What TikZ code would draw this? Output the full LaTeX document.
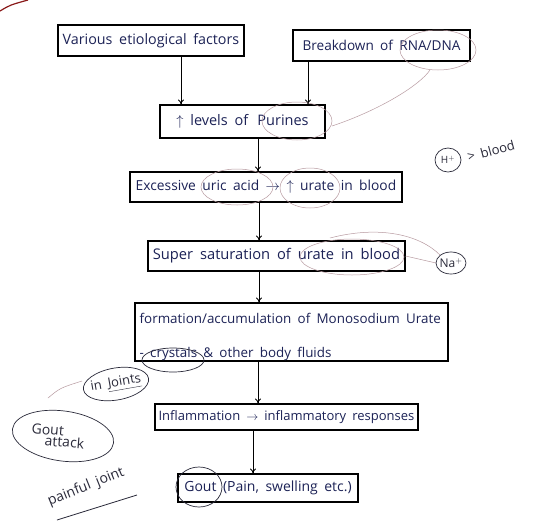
\documentclass[tikz,border=0pt]{standalone}
\usepackage{fontspec}
\setmainfont{Open Sans}[WordSpace=1.8]
\usetikzlibrary{arrows.meta,calc,shapes.geometric}
\definecolor{ink}{HTML}{1C2256}
\definecolor{pen}{HTML}{2A2A3A}
\definecolor{faint}{HTML}{B89AA0}
\definecolor{redink}{HTML}{8A1A1A}
\tikzset{
  box/.style={draw=black, line width=1.1pt, text=ink, inner sep=3pt},
  flow/.style={draw=black, line width=0.9pt, -{To[length=5pt,width=6pt]}},
  ring/.style={draw=faint, line width=0.5pt},
  darkring/.style={draw=pen, line width=0.7pt},
  note/.style={text=pen, font=\fontsize{13}{13}\selectfont, inner sep=1pt}
}
\newcommand{\fs}[1]{\fontsize{#1}{#1}\selectfont}
\begin{document}
\begin{tikzpicture}[x=1pt,y=-1pt]
\useasboundingbox (0,0) rectangle (533,531);
\fill[white] (0,0) rectangle (533,531);
\draw[redink, line width=1.2pt] (0,11) .. controls (10,5) .. (28,0);
% boxes
\node[box, font=\fs{14.3}, minimum width=186pt, minimum height=31pt] (b1) at (151,40.5) {Various etiological factors};
\node[box, font=\fs{13.6}, minimum width=177pt, minimum height=31pt] (b2) at (381.5,45.5) {Breakdown of RNA/DNA};
\node[box, font=\fs{14.5}, minimum width=165pt, minimum height=33pt] (b3) at (242.5,121.5) {$\uparrow$ levels of \,Purines};
\node[box, font=\fs{13.8}, minimum width=272pt, minimum height=30pt] (b4) at (266,187) {Excessive uric acid $\rightarrow$ $\uparrow$ urate in blood};
\node[box, font=\fs{14.7}, minimum width=257pt, minimum height=30pt] (b5) at (276.5,256) {Super saturation of urate in blood};
\node[box, minimum width=313pt, minimum height=58pt] (b6) at (291.5,332) {};
\node[anchor=west, text=ink, align=left, inner sep=0pt, font=\fontsize{13.4}{34}\selectfont] (b6t) at ($(b6.west)+(5,5)$)
  {formation/accumulation of Monosodium Urate\\- crystals \& other body fluids};
\node[box, font=\fs{13}, minimum width=263pt, minimum height=26pt] (b7) at (286.5,417) {Inflammation $\rightarrow$ inflammatory responses};
\node[box, font=\fs{14}, minimum width=180pt, minimum height=28pt] (b8) at (268,488) {Gout (Pain, swelling etc.)};
% arrows
\draw[flow] ([xshift=30pt]b1.south) -- ([xshift=30pt]b1.south |- b3.north);
\draw[flow] ([xshift=-73.5pt]b2.south) -- ([xshift=-73.5pt]b2.south |- b3.north);
\draw[flow] ([xshift=15.5pt]b3.south) -- ([xshift=15.5pt]b3.south |- b4.north);
\draw[flow] ([xshift=-7pt]b4.south) -- ([xshift=-7pt]b4.south |- b5.north);
\draw[flow] ([xshift=-17.5pt]b5.south) -- ([xshift=-17.5pt]b5.south |- b6.north);
\draw[flow] ([xshift=-33.5pt]b6.south) -- ([xshift=-33.5pt]b6.south |- b7.north);
\draw[flow] ([xshift=-33.5pt]b7.south) -- ([xshift=-33.5pt]b7.south |- b8.north);
% rings around words
\draw[ring] (438,50) ellipse [x radius=38pt, y radius=20pt];
\draw[ring] (297,121) ellipse [x radius=35pt, y radius=19pt];
\draw[ring] (237,187) ellipse [x radius=36pt, y radius=18pt];
\draw[ring] (310,188) ellipse [x radius=30pt, y radius=20pt];
\draw[ring] (352,257) ellipse [x radius=52pt, y radius=18pt];
\draw[darkring] (173,360) ellipse [x radius=31pt, y radius=12pt];
\draw[darkring] (199,487) ellipse [x radius=23pt, y radius=20pt];
\draw[ring] (332,126) .. controls (380,110) and (420,85) .. (430,70);
\draw[ring] (330,238) .. controls (380,225) and (420,235) .. (440,255);
\draw[ring] (b5.east) -- (436,263);
% side notes
\node[note] (hp) at (448,160) {\fs{10}H$^{+}$};
\draw[darkring] (hp) ellipse [x radius=13pt, y radius=12pt];
\node[note, rotate=15] (bl) at (491,151) {> blood};
\node[note, font=\fs{12}] (na) at (451,263) {Na$^{+}$};
\draw[darkring] (na) ellipse [x radius=15pt, y radius=11pt];
\node[note, rotate=10] (jt) at (116,384) {in \underline{Joints}};
\draw[darkring, rotate around={10:(116,384)}] (116,384) ellipse [x radius=33pt, y radius=16pt];
\draw[ring] (48,398) .. controls (60,388) .. (82,381);
\node[note, align=left, rotate=-5, font=\fontsize{14}{12}\selectfont] (ga) at (58,436) {Gout\\[-1pt]\quad attack};
\draw[darkring, rotate around={-8:(63,436)}] (63,436) ellipse [x radius=51pt, y radius=25pt];
\node[note, rotate=22, font=\fs{14}] (pj) at (86,487) {painful joint};
\draw[pen, line width=0.8pt] (57,520) -- (137,495);
\end{tikzpicture}
\end{document}
